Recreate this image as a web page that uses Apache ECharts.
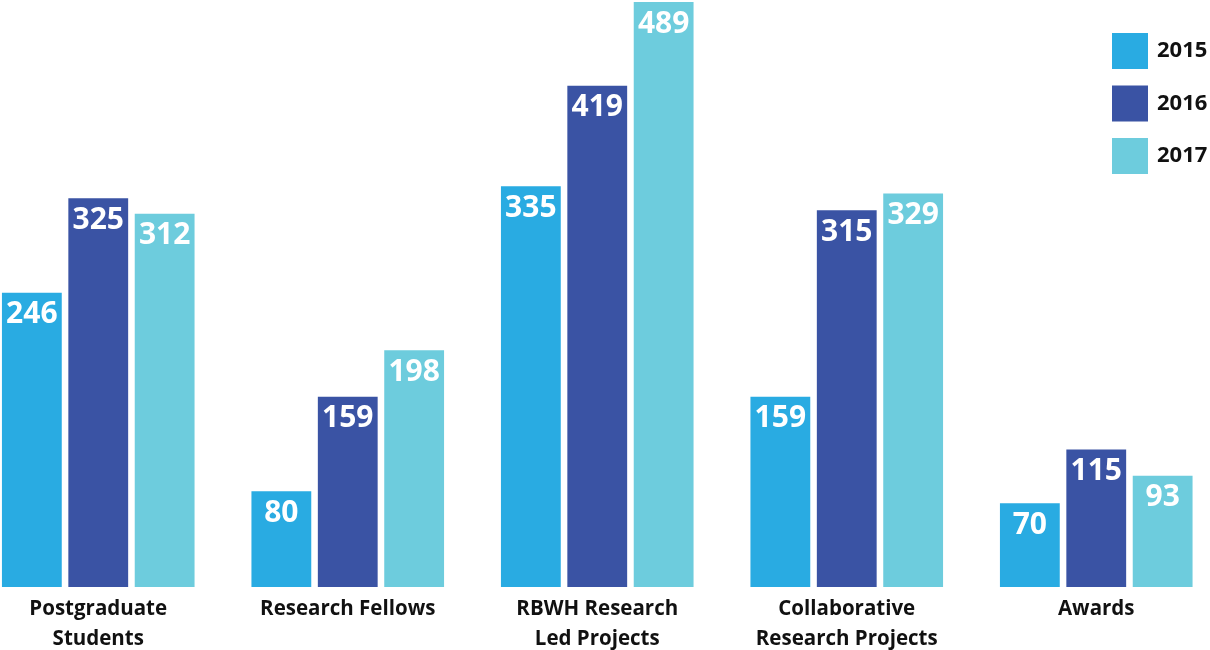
<!DOCTYPE html>
<html>
<head>
<meta charset="utf-8">
<script src="https://cdn.jsdelivr.net/npm/echarts@6/dist/echarts.min.js"></script>
<style>html,body{margin:0;padding:0;background:#fff;}#main{width:1210px;height:650px;}</style>
</head>
<body>
<div id="main"></div>
<script>
const categories = ['Postgraduate\nStudents', 'Research Fellows', 'RBWH Research\nLed Projects', 'Collaborative\nResearch Projects', 'Awards'];
const years = ['2015', '2016', '2017'];
const values2015 = [246, 80, 335, 159, 70];
const values2016 = [325, 159, 419, 315, 115];
const values2017 = [312, 198, 489, 329, 93];
const colors = ['#29abe2', '#3a53a4', '#6dccdd'];
const FONT = '"Open Sans", "Noto Sans", sans-serif';

const chart = echarts.init(document.getElementById('main'));
const seriesData = [values2015, values2016, values2017];
chart.setOption({
  animation: false,
  backgroundColor: '#ffffff',
  textStyle: { fontFamily: FONT },
  grid: { left: -26.5, right: -11, top: 2, bottom: 63, containLabel: false, outerBoundsMode: 'none' },
  legend: {
    orient: 'vertical',
    left: 1112,
    top: 33,
    padding: 0,
    icon: 'rect',
    itemWidth: 36,
    itemHeight: 36,
    itemGap: 16.5,
    textStyle: { fontFamily: FONT, fontWeight: 'bold', fontSize: 22, color: '#111', padding: [0, 0, 0, 4] },
    data: years
  },
  xAxis: {
    type: 'category',
    data: categories,
    axisLine: { show: false },
    axisTick: { show: false },
    axisLabel: {
      interval: 0,
      margin: 7,
      color: '#111',
      fontFamily: FONT,
      fontWeight: 'bold',
      fontSize: 20.5,
      lineHeight: 30,
      verticalAlign: 'top'
    }
  },
  yAxis: { type: 'value', min: 0, max: 489, show: false, splitLine: { show: false } },
  series: years.map((y, i) => ({
    name: y,
    type: 'bar',
    data: seriesData[i],
    barGap: '11%',
    barCategoryGap: '22.8%',
    itemStyle: { color: colors[i] },
    label: {
      show: true,
      position: 'insideTop',
      distance: 7,
      color: '#fff',
      fontFamily: FONT,
      fontWeight: 'bold',
      fontSize: 30
    }
  }))
});
</script>
</body>
</html>
